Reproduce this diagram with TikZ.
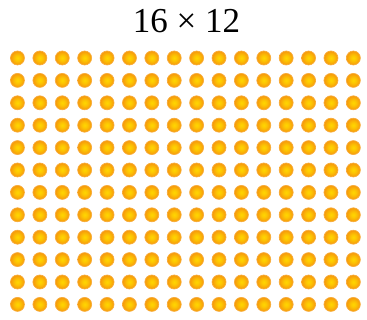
\documentclass[tikz,border=0pt]{standalone}
\usepackage{fontspec}
\setmainfont{Liberation Serif}
\usetikzlibrary{positioning}

\definecolor{dotcore}{RGB}{255,214,0}
\definecolor{dotrim}{RGB}{246,152,12}
\pgfdeclareradialshading{dotball}{\pgfpoint{0bp}{0bp}}{%
  color(0bp)=(dotcore); color(9bp)=(dotcore!75!dotrim);
  color(25bp)=(dotrim); color(50bp)=(dotrim)}

\begin{document}
\begin{tikzpicture}[
    x=1pt, y=1pt,
    dot/.style={circle, inner sep=0pt, minimum size=14pt,
                draw=dotrim!80, line width=0.7pt, shading=dotball},
    title/.style={font=\fontsize{35}{40}\selectfont}
]
\useasboundingbox (0,0) rectangle (367,320);

%---------------- title ----------------
\node[title] (title) at (186.5,299) {16 × 12};

%---------------- grid of dots ----------------
\foreach \i in {0,...,15}{
  \foreach \j in {0,...,11}{
    \node[dot] (dot-\i-\j) at (17.5+22.39*\i, 262-22.4*\j) {};
  }
}

\end{tikzpicture}
\end{document}
